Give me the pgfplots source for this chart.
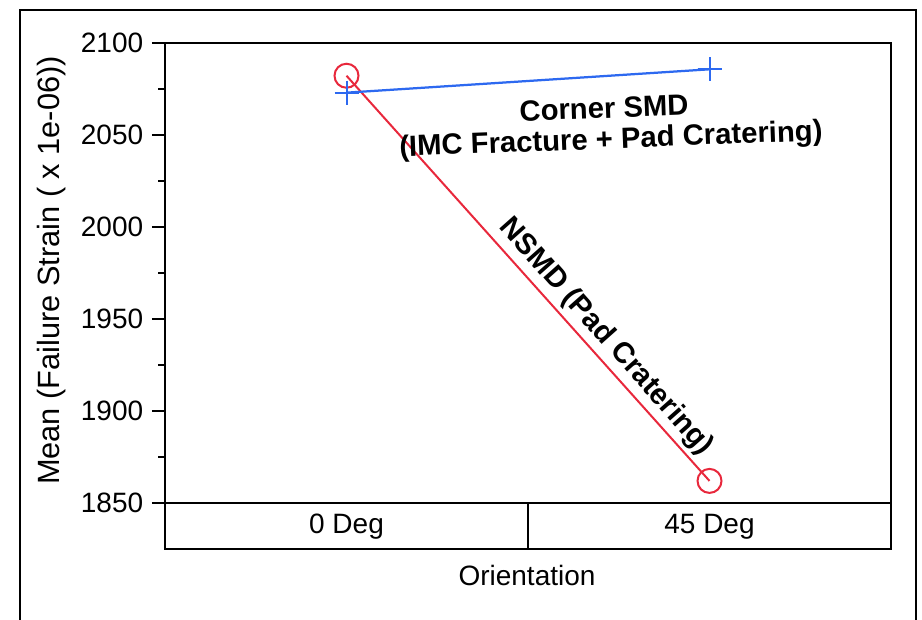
\documentclass[border=0pt]{standalone}
\usepackage{pgfplots}
\pgfplotsset{compat=1.18}
\usepackage{fontspec}
\setmainfont{Liberation Sans}
\definecolor{jmpblue}{RGB}{45,105,240}
\definecolor{jmpred}{RGB}{232,40,60}
\newcommand{\fs}{\fontsize{11.2}{13.4}\selectfont}
\newcommand{\fb}{\bfseries\fontsize{11.7}{14}\selectfont}
\begin{document}
\begin{tikzpicture}[x=0.4pt,y=0.4pt,font=\fs]
\useasboundingbox (0,0) rectangle (922,620);
% outer frame (runs off the bottom of the page)
\draw[line width=0.8pt] (20,-20) -- (20,610) -- (916,610) -- (916,-20);
\begin{axis}[
  at={(66pt,46.8pt)}, anchor=south west,
  scale only axis, width=290.4pt, height=184pt,
  xmin=-0.5, xmax=1.5, ymin=1850, ymax=2100,
  axis line style={line width=0.8pt},
  xtick={0,1}, xticklabels={0 Deg,45 Deg},
  x tick style={draw=none},
  xticklabel style={anchor=center, yshift=-4.4pt},
  ytick={1850,1900,...,2100},
  minor ytick={1875,1925,...,2075},
  xtick pos=bottom, ytick pos=left, tick align=outside,
  major tick length=5.2pt, minor tick length=2.8pt,
  y tick style={line width=0.8pt, black},
  /pgf/number format/assume math mode=true,
  /pgf/number format/1000 sep={},
  tick label style={font=\fs},
  clip=false,
]
\addplot[jmpred, line width=0.8pt, mark=o, mark size=4.8pt, mark options={line width=0.8pt}]
  coordinates {(0,2082.2) (1,1862)};
\addplot[jmpblue, line width=0.9pt, mark=+, mark size=4.8pt, mark options={line width=0.8pt}]
  coordinates {(0,2073) (1,2085.7)};
\end{axis}
% category box under the axis
\draw[line width=0.8pt] (165,117) rectangle (891,71);
\draw[line width=0.8pt] (528,117) -- (528,71);
\node[anchor=base] at (527,34) {Orientation};
\node[rotate=90, font=\fontsize{12.3}{14}\selectfont] at (52,349.5) {Mean (Failure Strain ( x 1e-06))};
% annotations
\node[font=\fb, rotate=2] at (604,512) {Corner SMD};
\node[font=\fb, rotate=2.2] at (611,479) {(IMC Fracture + Pad Cratering)};
\node[font=\fb, rotate=-48.4] at (606,283) {NSMD (Pad Cratering)};
\end{tikzpicture}
\end{document}
